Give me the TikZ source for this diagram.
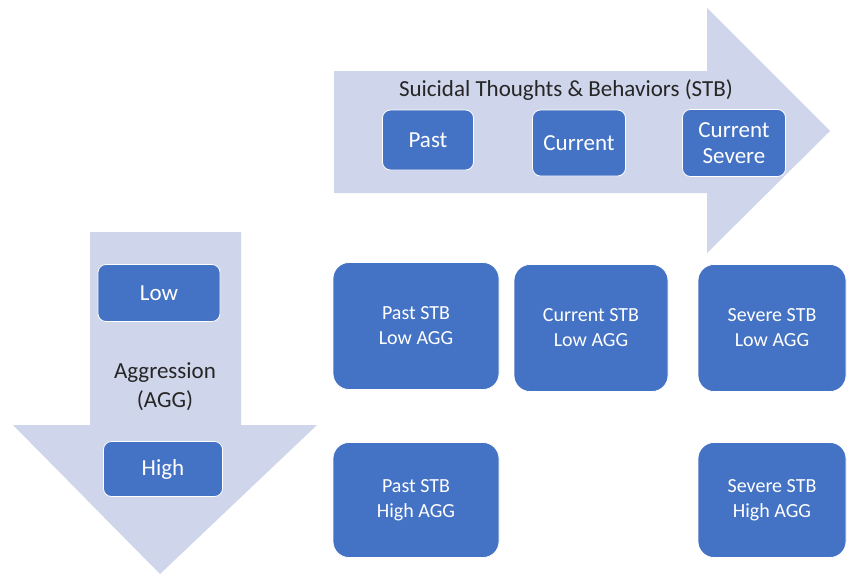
\documentclass[tikz,border=0pt]{standalone}
\usepackage{fontspec}
\setmainfont{Carlito}
\definecolor{arrowfill}{HTML}{CFD5EA}
\definecolor{boxfill}{HTML}{4472C4}
\definecolor{titletext}{HTML}{262626}
\tikzset{
  bigarrow/.style={fill=arrowfill, draw=none},
  smallbox/.style={fill=boxfill, draw=white, line width=0.8pt, rounded corners=8pt,
    text=white, align=center, font=\fontsize{23}{26}\selectfont, inner sep=0pt},
  gridbox/.style={fill=boxfill, draw=white, line width=0.8pt, rounded corners=16pt,
    text=white, align=center, font=\fontsize{20}{25}\selectfont, inner sep=0pt},
  label/.style={text=titletext, align=center, inner sep=0pt}
}
\begin{document}
\begin{tikzpicture}[x=1pt,y=-1pt]
\useasboundingbox[fill=white] (0,0) rectangle (851,579);
% right arrow (STB)
\path[bigarrow] (334,71) -- (707,71) -- (707,8) -- (830,131) -- (707,253) -- (707,193) -- (334,193) -- cycle;
% down arrow (AGG)
\path[bigarrow] (90,232) -- (241,232) -- (241,425) -- (317,425) -- (160,574) -- (13,425) -- (90,425) -- cycle;
% labels
\node[label, font=\fontsize{23}{26}\selectfont] (stb) at (566,90) {Suicidal Thoughts \& Behaviors (STB)};
\node[label, font=\fontsize{23}{29}\selectfont] (agg) at (165,387) {Aggression\\(AGG)};
% STB level boxes
\node[smallbox, minimum width=91pt, minimum height=60pt] (past) at (428,140) {Past};
\node[smallbox, minimum width=93pt, minimum height=66pt] (current) at (579,143) {Current};
\node[smallbox, minimum width=103pt, minimum height=67pt] (cursev) at (734,143) {Current\\Severe};
% AGG level boxes
\node[smallbox, minimum width=122pt, minimum height=57pt] (low) at (159,293) {Low};
\node[smallbox, minimum width=119pt, minimum height=55pt] (high) at (163,469) {High};
% grid
\node[gridbox, minimum width=166pt, minimum height=127pt] (pl) at (416,326) {Past STB\\Low AGG};
\node[gridbox, minimum width=154pt, minimum height=127pt] (cl) at (591,328) {Current STB\\Low AGG};
\node[gridbox, minimum width=148pt, minimum height=127pt] (sl) at (772,328) {Severe STB\\Low AGG};
\node[gridbox, minimum width=166pt, minimum height=115pt] (ph) at (416,500) {Past STB\\High AGG};
\node[gridbox, minimum width=148pt, minimum height=115pt] (sh) at (772,500) {Severe STB\\High AGG};
\end{tikzpicture}
\end{document}
